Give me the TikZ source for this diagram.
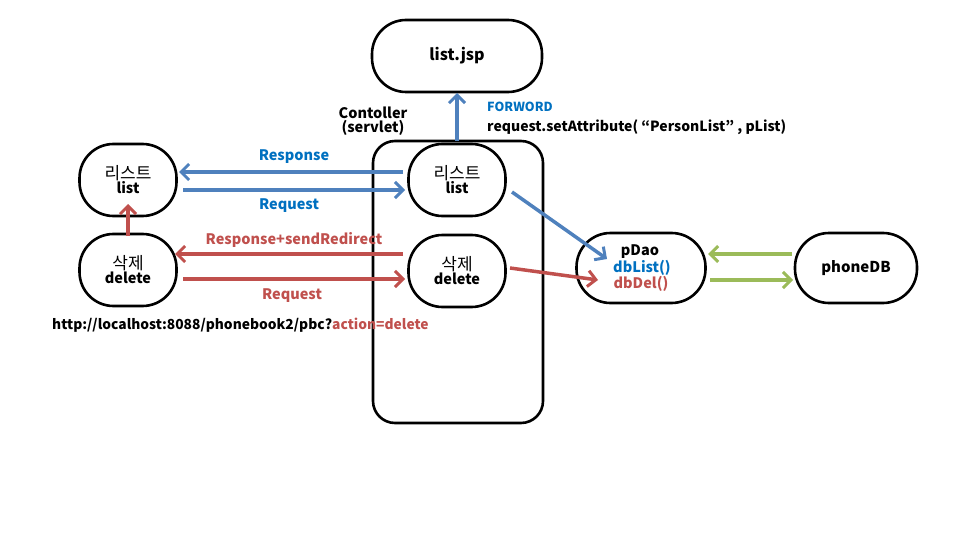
\documentclass[tikz,border=0pt]{standalone}
\usepackage{fontspec}
\setmainfont{Noto Sans CJK KR}
\usetikzlibrary{arrows.meta}
\definecolor{ablue}{HTML}{4F81BD}
\definecolor{tblue}{HTML}{0070C0}
\definecolor{ared}{HTML}{C0504D}
\definecolor{agreen}{HTML}{9BBB59}
\newcommand{\kor}[1]{{\mdseries\fontsize{17}{15}\selectfont #1}}
\begin{document}
\begin{tikzpicture}[x=1pt,y=-1pt,
  box/.style={draw=black,line width=2.6pt,rounded corners=#1,align=center,font=\bfseries\fontsize{14.5}{16}\selectfont,inner sep=0pt},
  box/.default=34pt,
  arr/.style={line width=3.5pt,-{Straight Barb[length=8pt,width=16pt,line width=3pt]}},
  lbl/.style={font=\bfseries\fontsize{14.5}{15}\selectfont,inner sep=0pt}]
\useasboundingbox (0,0) rectangle (960,540);
\node[box=34pt,minimum width=170pt,minimum height=72pt,font=\bfseries\fontsize{16}{16}\selectfont] (jsp) at (457,56) {list.jsp};
\node[box=22pt,minimum width=170pt,minimum height=282pt] (ctl) at (458,282) {};
\node[lbl,align=center,font=\bfseries\fontsize{14.5}{13.5}\selectfont] (ctllbl) at (373,121) {Contoller\\(servlet)};
\node[box=34pt,minimum width=97pt,minimum height=72pt] (clist) at (457,180) {\kor{리스트}\\[-2pt]list};
\node[box=34pt,minimum width=97pt,minimum height=72pt] (cdel) at (457,271) {\kor{삭제}\\[-2pt]delete};
\node[box=34pt,minimum width=97pt,minimum height=72pt] (llist) at (128,180) {\kor{리스트}\\[-2pt]list};
\node[box=34pt,minimum width=97pt,minimum height=72pt] (ldel) at (128,270) {\kor{삭제}\\[-2pt]delete};
\node[box=34pt,minimum width=129pt,minimum height=70pt] (dao) at (641,268) {};
\node[lbl] (daot) at (640,252) {pDao};
\node[lbl,text=tblue] (dbl) at (642,268) {dbList()};
\node[lbl,text=ared] (dbd) at (641,284) {dbDel()};
\node[box=34pt,minimum width=122pt,minimum height=70pt,font=\bfseries\fontsize{15}{16}\selectfont] (db) at (856,268) {phoneDB};
% labels
\node[lbl,text=tblue,anchor=west,font=\bfseries\fontsize{12.5}{13}\selectfont] (fw) at (487,107) {FORWORD};
\node[lbl,anchor=west,font=\bfseries\fontsize{14}{14}\selectfont] (sa) at (487,127) {request.setAttribute( “PersonList” , pList)};
\node[lbl,text=tblue] (resp) at (294,157) {Response};
\node[lbl,text=tblue] (req) at (289,206) {Request};
\node[lbl,text=ared] (rsr) at (294,240) {Response+sendRedirect};
\node[lbl,text=ared] (req2) at (292,296) {Request};
\node[lbl,anchor=west,font=\bfseries\fontsize{13.8}{14}\selectfont] (url) at (52,325) {http://localhost:8088/phonebook2/pbc?\textcolor{ared}{action=delete}};
% coordinates
\coordinate (u1) at (457,141);
\coordinate (u2) at (457,93);
\coordinate (r1) at (403,172);
\coordinate (r2) at (179,172);
\coordinate (q1) at (183,190);
\coordinate (q2) at (405,190);
\coordinate (d1) at (512,192);
\coordinate (d2) at (607,259);
\coordinate (s1) at (403,254);
\coordinate (s2) at (175,254);
\coordinate (t1) at (183,279);
\coordinate (t2) at (405,279);
\coordinate (e1) at (510,268);
\coordinate (e2) at (598,280);
\coordinate (v1) at (128,236);
\coordinate (v2) at (128,204);
\coordinate (g1) at (792,254);
\coordinate (g2) at (708,254);
\coordinate (h1) at (710,280);
\coordinate (h2) at (793,280);
\draw[arr,ablue] (u1) -- (u2);
\draw[arr,ablue] (r1) -- (r2);
\draw[arr,ablue] (q1) -- (q2);
\draw[arr,ablue] (d1) -- (d2);
\draw[arr,ared] (s1) -- (s2);
\draw[arr,ared] (t1) -- (t2);
\draw[arr,ared] (e1) -- (e2);
\draw[arr,ared] (v1) -- (v2);
\draw[arr,agreen] (g1) -- (g2);
\draw[arr,agreen] (h1) -- (h2);
\end{tikzpicture}
\end{document}
